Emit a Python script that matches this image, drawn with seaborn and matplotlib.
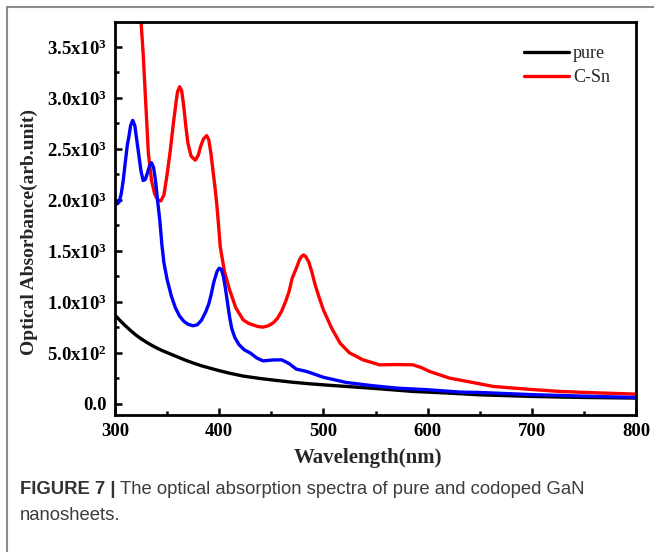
import matplotlib
matplotlib.use('Agg')
import matplotlib.pyplot as plt
from matplotlib.lines import Line2D
from matplotlib.ticker import MultipleLocator
import seaborn as sns

# Spectra (wavelength in nm, absorbance in arb. units)
pure_wl = [300, 305, 310, 315, 320, 325, 330, 335, 340, 345, 350, 359, 367, 375, 383, 391,
           400, 410, 423, 440, 455, 470, 487, 505, 522, 550, 586, 620, 650, 700, 750, 800]
pure_abs = [870, 815, 765, 718, 675, 638, 605, 575, 548, 523, 502, 464, 430, 400, 373, 350,
            325, 300, 272, 247, 229, 212, 196, 182, 170, 150, 121, 105, 88, 72, 62, 56]

csn_wl = [323, 325, 327, 329.5, 332, 335, 338, 341, 344, 347, 350, 353, 356, 358.5, 360,
          362, 364, 366, 368, 370, 373, 377, 380, 382, 385, 388, 390, 392, 394, 396,
          397.6, 399, 401, 405, 410, 416, 423, 428, 432, 437, 442, 447, 452, 456, 460,
          464, 467, 470, 474, 477, 479, 481, 483, 486, 489, 492, 496, 500, 508, 516,
          525, 538, 554, 570, 586, 594, 602, 621, 650, 663, 700, 727, 760, 800]
csn_abs = [4000, 3745, 3440, 2950, 2460, 2195, 2060, 2000, 1990, 2050, 2250, 2480, 2750, 2950,
           3060, 3110, 3070, 2915, 2720, 2555, 2430, 2390, 2440, 2520, 2600, 2630, 2590,
           2460, 2290, 2120, 1965, 1800, 1540, 1300, 1117, 940, 823, 790, 775, 758, 752,
           765, 795, 840, 910, 1010, 1100, 1230, 1330, 1410, 1445, 1460, 1445, 1390, 1290,
           1170, 1040, 921, 740, 595, 500, 431, 382, 385, 382, 355, 317, 252, 196, 170,
           140, 121, 108, 95]

# third (unlabelled) spectrum, drawn in blue
blue_wl = [300, 302, 304, 306, 308, 310, 312, 313, 315, 317, 319, 321, 323, 325, 327, 329,
           331, 333, 335, 337, 339, 341, 343, 345, 347, 350, 354, 358, 362, 366, 370, 375,
           379, 383, 387, 390, 392, 395, 398, 400, 402, 404, 406, 408, 410, 412, 415, 419,
           424, 430, 436, 442, 452, 460, 467, 474, 484, 500, 522, 545, 570, 600, 631, 650,
           700, 750, 800]
blue_abs = [1990, 1960, 1980, 2060, 2200, 2380, 2550, 2600, 2730, 2780, 2730, 2580, 2430,
            2280, 2190, 2200, 2260, 2330, 2365, 2320, 2180, 1980, 1800, 1560, 1380, 1220,
            1060, 940, 860, 810, 780, 765, 775, 820, 900, 980, 1060, 1200, 1300, 1330,
            1320, 1250, 1130, 990, 850, 740, 650, 580, 530, 497, 450, 421, 430, 431, 395,
            340, 317, 260, 209, 180, 154, 138, 115, 111, 90, 75, 62]

xticks = [300, 400, 500, 600, 700, 800]
yticks = [0, 500, 1000, 1500, 2000, 2500, 3000, 3500]
ytick_labels = ['0.0', '5.0x10$^2$', '1.0x10$^3$', '1.5x10$^3$', '2.0x10$^3$',
                '2.5x10$^3$', '3.0x10$^3$', '3.5x10$^3$']

sns.set_style('ticks')
plt.rcParams['font.family'] = ['Liberation Serif', 'DejaVu Serif']
plt.rcParams['font.weight'] = 'bold'
plt.rcParams['mathtext.fontset'] = 'custom'
plt.rcParams['mathtext.rm'] = 'Liberation Serif'
plt.rcParams['mathtext.default'] = 'rm'

fig = plt.figure(figsize=(6.54, 5.52), dpi=100)
ax = fig.add_axes([115 / 654, 1 - 415 / 552, 521 / 654, 393 / 552])

sns.lineplot(x=pure_wl, y=pure_abs, color='black', linewidth=2.4, ax=ax)
sns.lineplot(x=csn_wl, y=csn_abs, color='#ff0000', linewidth=2.4, ax=ax)
sns.lineplot(x=blue_wl, y=blue_abs, color='#0000ff', linewidth=2.4, ax=ax)

ax.set_xlim(300, 800)
ax.set_ylim(-110, 3745)
ax.set_xticks(xticks)
ax.set_yticks(yticks)
ax.set_yticklabels(ytick_labels)
ax.xaxis.set_minor_locator(MultipleLocator(50))
ax.yaxis.set_minor_locator(MultipleLocator(250))
ax.tick_params(which='both', direction='in', width=1.8, top=False, right=False,
               labelsize=13.5, colors='black')
ax.tick_params(which='major', length=5, pad=6)
ax.tick_params(which='minor', length=3)
for lab in ax.get_xticklabels() + ax.get_yticklabels():
    lab.set_fontweight('bold')
for s in ax.spines.values():
    s.set_linewidth(2.0)
    s.set_color('black')
    s.set_visible(True)

ax.set_xlabel('Wavelength(nm)', fontsize=15, fontweight='bold')
ax.set_ylabel('Optical Absorbance(arb.unit)', fontsize=14, fontweight='bold')
ax.xaxis.set_label_coords((368 - 115) / 521, (415 - 448) / 393)
ax.yaxis.set_label_coords((38 - 115) / 521, (415 - 232) / 393)

handles = [Line2D([], [], color='black', lw=2.4), Line2D([], [], color='#ff0000', lw=2.4)]
ax.legend(handles, ['pure', 'C-Sn'], loc='upper left',
          bbox_to_anchor=((524 - 115) / 521, (415 - 45) / 393), frameon=False,
          borderpad=0, borderaxespad=0, handlelength=2.5, handletextpad=0.2,
          labelspacing=0.4, prop={'family': 'Liberation Serif', 'weight': 'normal', 'size': 13})

# outer frame of the figure panel (top and left edges)
fig.add_artist(Line2D([7 / 654, 1], [1 - 7 / 552, 1 - 7 / 552], color='#8c8c8c', lw=1.5))
fig.add_artist(Line2D([7 / 654, 7 / 654], [0, 1 - 7 / 552], color='#8c8c8c', lw=1.5))

# caption
cap_font = ['Liberation Sans', 'DejaVu Sans']
t1 = fig.text(20 / 654, 1 - 490 / 552, 'FIGURE 7 |', family=cap_font, weight='bold',
              size=13.3, color='#333333', va='center', ha='left')
fig.canvas.draw()
bb = t1.get_window_extent()
fig.text((bb.x1 + 4) / 654, 1 - 490 / 552,
         'The optical absorption spectra of pure and codoped GaN', family=cap_font,
         weight='normal', size=13.3, color='#3c3c3c', va='center', ha='left')
fig.text(20 / 654, 1 - 516 / 552, 'nanosheets.', family=cap_font, weight='normal',
         size=13.3, color='#3c3c3c', va='center', ha='left')

fig.savefig('out.png', dpi=100)
